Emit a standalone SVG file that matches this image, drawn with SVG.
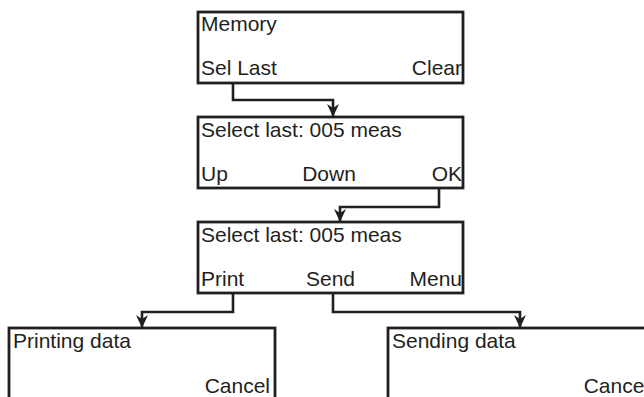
<svg xmlns="http://www.w3.org/2000/svg" width="644" height="397" viewBox="0 0 644 397">
  <style>
    .box { fill: #ffffff; stroke: #231f20; stroke-width: 2.8; }
    .t { font-family: "Liberation Sans", Arial, sans-serif; font-size: 21px; fill: #231f20; }
    .end { text-anchor: end; }
    .mid { text-anchor: middle; }
    .link { fill: none; stroke: #231f20; stroke-width: 2.6; stroke-linejoin: miter; }
  </style>
  <defs>
    <!-- filled arrowhead drawn along +x, tip at the end of the line -->
    <marker id="arrow" markerUnits="userSpaceOnUse" markerWidth="14" markerHeight="14" viewBox="0 0 14 14" refX="13" refY="7" orient="auto">
      <path d="M0,1 L4,7 L0,13 L13,7 Z" fill="#231f20"/>
    </marker>
  </defs>
  <rect width="644" height="397" fill="#ffffff"/>

  <!-- connectors -->
  <g id="connectors">
    <path class="link" d="M233,83 V100 H333 V117" marker-end="url(#arrow)"/>
    <path class="link" d="M439,188 V207 H340 V222" marker-end="url(#arrow)"/>
    <path class="link" d="M233,293 V312 H142 V328" marker-end="url(#arrow)"/>
    <path class="link" d="M333,293 V312 H520 V328" marker-end="url(#arrow)"/>
  </g>

  <!-- screen: Memory -->
  <g id="memory">
    <rect class="box" x="198" y="12" width="265" height="71"/>
    <text class="t" x="201" y="31">Memory</text>
    <text class="t" x="201" y="75">Sel Last</text>
    <text class="t end" x="462" y="75">Clear</text>
  </g>

  <!-- screen: Select last (navigation) -->
  <g id="select-nav">
    <rect class="box" x="198" y="117" width="265" height="71"/>
    <text class="t" x="201" y="137">Select last: 005 meas</text>
    <text class="t" x="201" y="181">Up</text>
    <text class="t mid" x="329" y="181">Down</text>
    <text class="t end" x="462" y="181">OK</text>
  </g>

  <!-- screen: Select last (actions) -->
  <g id="select-actions">
    <rect class="box" x="198" y="222" width="265" height="71"/>
    <text class="t" x="201" y="242">Select last: 005 meas</text>
    <text class="t" x="201" y="286">Print</text>
    <text class="t mid" x="330.5" y="286">Send</text>
    <text class="t end" x="462" y="286">Menu</text>
  </g>

  <!-- screen: Printing data -->
  <g id="printing">
    <rect class="box" x="9" y="328" width="266" height="90"/>
    <text class="t" x="13" y="348">Printing data</text>
    <text class="t end" x="270" y="392.5">Cancel</text>
  </g>

  <!-- screen: Sending data -->
  <g id="sending">
    <rect class="box" x="388" y="328" width="266" height="90"/>
    <text class="t" x="392" y="348">Sending data</text>
    <text class="t end" x="649" y="392.5">Cancel</text>
  </g>
</svg>
